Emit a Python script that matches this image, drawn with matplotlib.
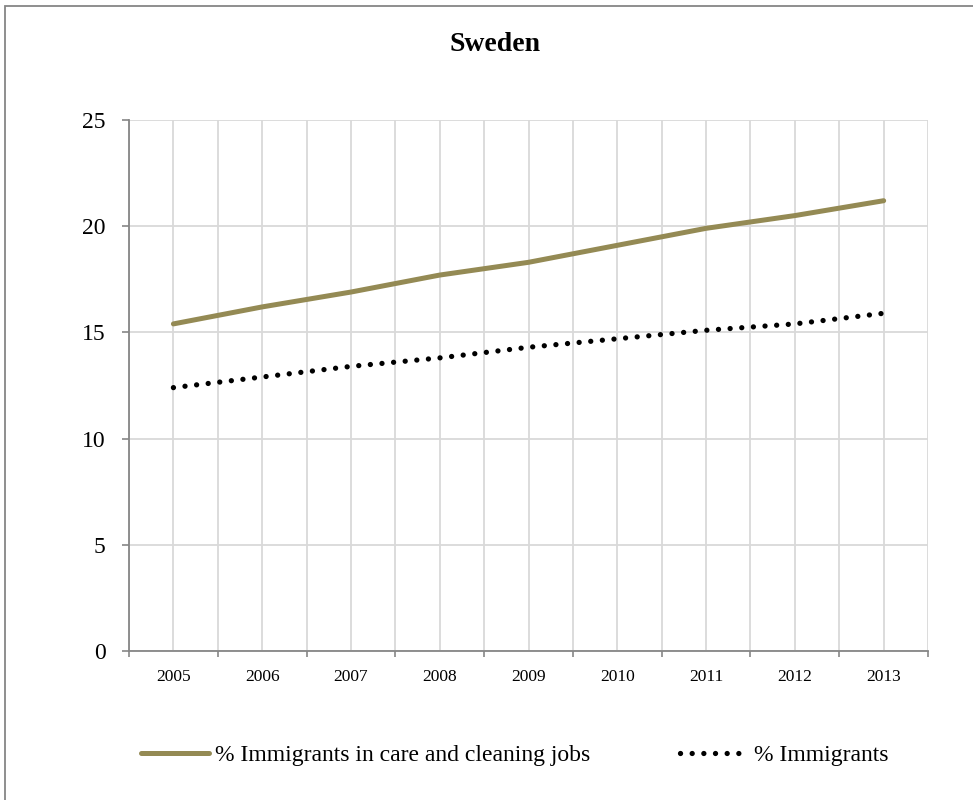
import numpy as np
import matplotlib.pyplot as plt
from matplotlib.patches import Rectangle

years = ["2005", "2006", "2007", "2008", "2009", "2010", "2011", "2012", "2013"]
care_cleaning = [15.4, 16.2, 16.9, 17.7, 18.3, 19.1, 19.9, 20.5, 21.2]
immigrants = [12.4, 12.9, 13.4, 13.8, 14.3, 14.7, 15.1, 15.4, 15.9]

plt.rcParams["font.family"] = ["Liberation Serif", "DejaVu Serif"]

fig = plt.figure(figsize=(9.73, 8.0), dpi=100)
ax = fig.add_axes([0.1326, 0.18625, 0.8212, 0.66375])

x = np.arange(len(years))
ax.plot(x, care_cleaning, color="#948a54", lw=3.6, solid_capstyle="round",
        label="% Immigrants in care and cleaning jobs", zorder=3)
ax.plot(x, immigrants, color="black", lw=3.8, linestyle=(0, (0.01, 2.2)),
        dash_capstyle="round", label="% Immigrants", zorder=3)

ax.set_xlim(-0.5, len(years) - 0.5)
ax.set_ylim(0, 25)
ax.set_yticks([0, 5, 10, 15, 20, 25])
ax.set_xticks(x)
ax.set_xticklabels(years, fontsize=12.5)
ax.set_xticks(np.arange(-0.5, len(years), 1.0), minor=True)
ax.tick_params(axis="x", which="major", length=0, pad=13)
ax.tick_params(axis="x", which="minor", length=4, width=1.2, color="#868686", direction="out")
ax.tick_params(axis="y", length=5, width=1.2, color="#868686", pad=12, labelsize=17)

ax.grid(True, which="both", axis="x", color="#d9d9d9", lw=1.3)
ax.grid(True, which="major", axis="y", color="#d9d9d9", lw=1.3)
ax.set_axisbelow(True)
for s in ["top", "right"]:
    ax.spines[s].set_visible(False)
for s in ["left", "bottom"]:
    ax.spines[s].set_color("#868686")
    ax.spines[s].set_linewidth(1.3)

fig.text(0.509, 0.944, "Sweden", ha="center", va="center", fontsize=20, fontweight="bold")

fig.legend(loc="center", bbox_to_anchor=(0.529, 0.056), ncol=2, frameon=False,
           fontsize=17, handlelength=2.9, columnspacing=3.8, handletextpad=0.25)

fig.patches.append(Rectangle((5 / 973, -0.1), 1.2, (800 - 6) / 800 + 0.1,
                             transform=fig.transFigure, fill=False,
                             edgecolor="#868686", lw=1.3))

fig.savefig("out.png", dpi=100)
